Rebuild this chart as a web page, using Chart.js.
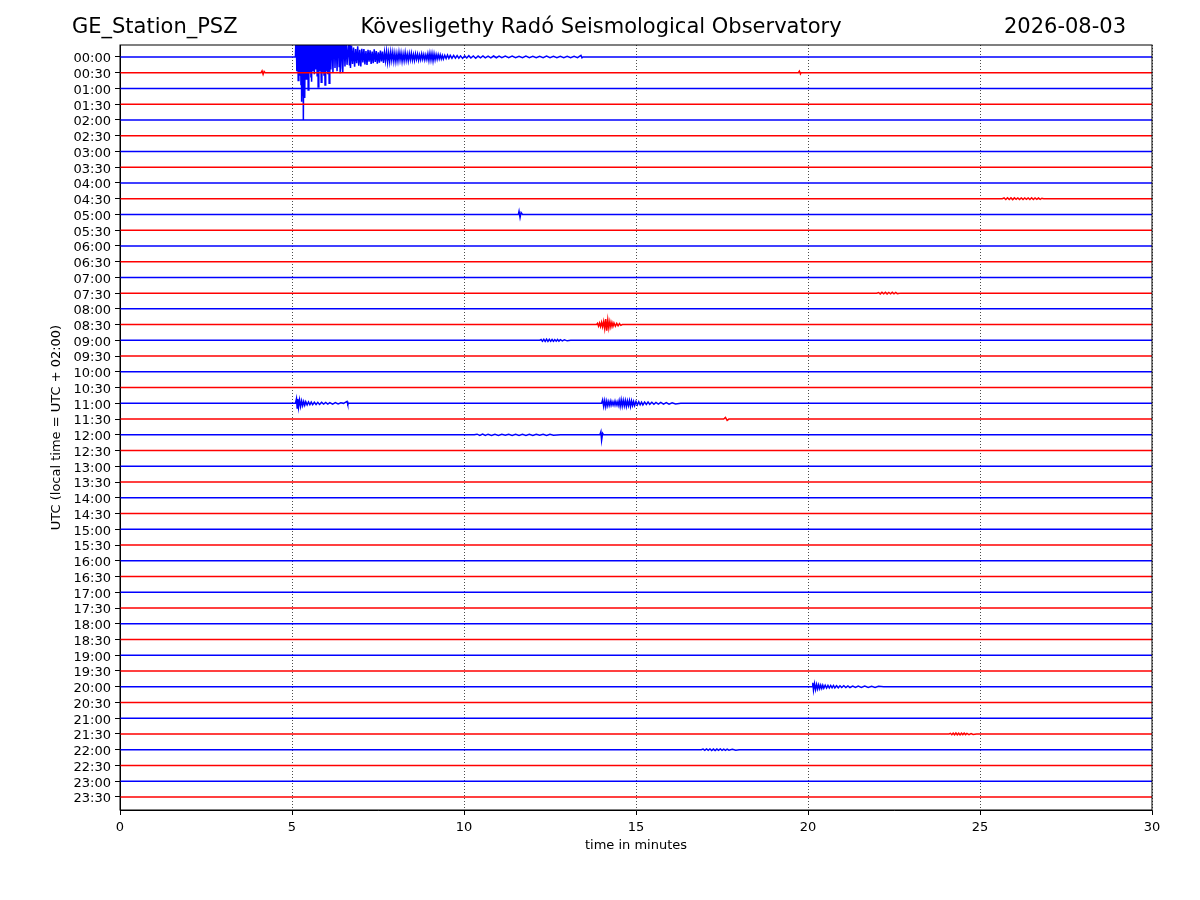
<!DOCTYPE html>
<html lang="en">
<head>
  <meta charset="UTF-8">
  <title>GE_Station_PSZ helicorder</title>
  <script src="https://cdn.jsdelivr.net/npm/chart.js"></script>
  <style>
    body {
      margin: 0;
      background: #fff;
      font-family: "DejaVu Sans", sans-serif;
    }
    canvas {
      display: block;
    }
  </style>
</head>
<body>
  <canvas id="heli" width="1200" height="900"></canvas>

  <script>
    // one trace per half hour, drawn top to bottom
    const TRACE_LABELS = [
      "00:00", "00:30", "01:00", "01:30", "02:00", "02:30", "03:00", "03:30",
      "04:00", "04:30", "05:00", "05:30", "06:00", "06:30", "07:00", "07:30",
      "08:00", "08:30", "09:00", "09:30", "10:00", "10:30", "11:00", "11:30",
      "12:00", "12:30", "13:00", "13:30", "14:00", "14:30", "15:00", "15:30",
      "16:00", "16:30", "17:00", "17:30", "18:00", "18:30", "19:00", "19:30",
      "20:00", "20:30", "21:00", "21:30", "22:00", "22:30", "23:00", "23:30"
    ];
    const X_TICKS = [0, 5, 10, 15, 20, 25, 30];

    // [minute, amplitude in trace spacings]
    const EV_0000 = [
      [5.10, 0], [5.12, 1.8], [5.14, -0.9], [5.16, 3.0], [5.18, -1.5], [5.20, 2.5],
      [5.22, -1.2], [5.24, 3.0], [5.26, -1.8], [5.27, 2.2], [5.28, -2.84], [5.30, 3.0],
      [5.31, -2.5], [5.32, 2.0], [5.33, -4.0], [5.35, 3.0], [5.37, -2.6], [5.39, 2.6],
      [5.41, -1.4], [5.43, 3.0], [5.45, -1.2], [5.46, 2.4], [5.47, -2.1], [5.49, 2.8],
      [5.51, -1.0], [5.53, 2.2], [5.55, -1.3], [5.56, 2.6], [5.57, -1.57], [5.59, 3.0],
      [5.61, -0.9], [5.63, 2.4], [5.65, -1.1], [5.67, 2.8], [5.69, -0.8], [5.71, 2.2],
      [5.73, -1.2], [5.75, 2.6], [5.76, -1.9], [5.78, 3.0], [5.80, -0.9], [5.82, 2.2],
      [5.85, -1.6], [5.87, 2.8], [5.89, -1.0], [5.91, 2.0], [5.93, -1.2], [5.94, 2.4],
      [5.96, -1.78], [5.98, 2.6], [6.00, -0.9], [6.02, 2.0], [6.04, -1.1], [6.06, 2.6],
      [6.08, -1.67], [6.10, 2.2], [6.13, -0.8], [6.16, 1.8], [6.19, -1.0], [6.22, 2.0],
      [6.25, -0.7], [6.28, 1.6], [6.31, -0.9], [6.34, 1.9], [6.37, -0.6], [6.385, 1.5],
      [6.40, -1.04], [6.43, 1.4], [6.46, -0.7], [6.47, 1.2], [6.48, -1.0], [6.51, 1.3],
      [6.54, -0.6], [6.57, 1.1], [6.60, -0.5], [6.64, 0.9], [6.67, -0.5], [6.685, 0.8],
      [6.70, -0.7], [6.73, 0.72], [6.76, -0.45], [6.79, 0.6], [6.82, -0.62], [6.85, 0.5],
      [6.88, -0.4], [6.91, 0.68], [6.94, -0.55], [6.97, 0.45], [7.00, -0.6], [7.03, 0.52],
      [7.06, -0.35], [7.09, 0.5], [7.12, -0.48], [7.15, 0.38], [7.18, -0.5], [7.21, 0.45],
      [7.24, -0.3], [7.27, 0.42], [7.30, -0.45], [7.33, 0.35], [7.36, -0.4], [7.39, 0.48],
      [7.42, -0.32], [7.45, 0.38], [7.48, -0.42], [7.51, 0.3], [7.54, -0.36], [7.57, 0.4],
      [7.60, -0.28], [7.63, 0.35], [7.66, -0.38], [7.69, 0.3], [7.72, -0.25], [7.75, 0.36],
      [7.78, -0.33], [7.81, 0.26], [7.84, -0.3], [7.87, 0.32], [7.90, -0.22], [7.93, 0.3],
      [7.96, -0.28], [7.99, 0.24], [8.02, -0.3], [8.05, 0.22], [8.08, -0.26], [8.11, 0.3],
      [8.14, -0.2], [8.17, 0.26], [8.20, -0.28], [8.23, 0.2], [8.26, -0.24], [8.29, 0.28],
      [8.32, -0.22], [8.35, 0.18], [8.38, -0.25], [8.41, 0.22], [8.44, -0.18], [8.47, 0.24],
      [8.50, -0.2], [8.53, 0.16], [8.56, -0.22], [8.59, 0.2], [8.62, -0.15], [8.65, 0.18],
      [8.68, -0.2], [8.71, 0.14], [8.74, -0.17], [8.77, 0.2], [8.80, -0.14], [8.83, 0.16],
      [8.86, -0.18], [8.89, 0.14], [8.92, -0.16], [8.95, 0.2], [8.98, -0.22], [9.01, 0.24],
      [9.04, -0.2], [9.07, 0.22], [9.10, -0.25], [9.13, 0.2], [9.16, -0.18], [9.19, 0.16],
      [9.22, -0.14], [9.25, 0.15], [9.28, -0.12], [9.31, 0.14], [9.34, -0.12], [9.37, 0.1],
      [9.40, -0.13], [9.44, 0.11], [9.48, -0.1], [9.52, 0.12], [9.56, -0.09], [9.60, 0.1],
      [9.65, -0.08], [9.70, 0.1], [9.75, -0.07], [9.80, 0.09], [9.85, -0.08], [9.90, 0.07],
      [9.96, -0.09], [10.02, 0.07], [10.08, -0.06], [10.14, 0.08], [10.20, -0.07], [10.27, 0.06],
      [10.34, -0.08], [10.41, 0.06], [10.48, -0.05], [10.55, 0.07], [10.62, -0.06], [10.70, 0.05],
      [10.78, -0.06], [10.86, 0.06], [10.94, -0.05], [11.02, 0.05], [11.10, -0.05], [11.20, 0.06],
      [11.30, -0.04], [11.40, 0.05], [11.50, -0.05], [11.60, 0.04], [11.70, -0.05], [11.80, 0.05],
      [11.90, -0.04], [12.00, 0.04], [12.10, -0.05], [12.20, 0.04], [12.30, -0.04], [12.40, 0.05],
      [12.50, -0.04], [12.60, 0.04], [12.70, -0.04], [12.80, 0.04], [12.90, -0.04], [13.00, 0.04],
      [13.10, -0.04], [13.20, 0.04], [13.30, -0.04], [13.40, 0.1], [13.43, -0.05], [13.46, 0]
    ];
    const EV_0030 = [[4.10, 0], [4.13, 0.12], [4.16, -0.1], [4.19, 0.08], [4.22, 0],
      [19.72, 0], [19.75, 0.1], [19.78, -0.08], [19.80, 0]];
    const EV_0430 = [[25.65, 0], [25.70, 0.05], [25.75, -0.05], [25.80, 0.06], [25.85, -0.05],
      [25.90, 0.05], [25.95, -0.06], [26.00, 0.05], [26.05, -0.04], [26.10, 0.05],
      [26.15, -0.05], [26.20, 0.04], [26.25, -0.05], [26.30, 0.05], [26.35, -0.04],
      [26.40, 0.05], [26.45, -0.05], [26.50, 0.06], [26.55, -0.05], [26.60, 0.05],
      [26.65, -0.04], [26.70, 0.04], [26.75, -0.04], [26.80, 0.03], [26.85, 0]];
    const EV_0500 = [[11.58, 0], [11.60, 0.2], [11.63, -0.2], [11.66, 0.12], [11.70, 0]];
    const EV_0730 = [[22.0, 0], [22.05, 0.04], [22.10, -0.05], [22.15, 0.05], [22.20, -0.04],
      [22.25, 0.05], [22.30, -0.05], [22.35, 0.04], [22.40, -0.04], [22.45, 0.05],
      [22.50, -0.04], [22.55, 0.04], [22.60, -0.03], [22.70, 0]];
    const EV_0830 = [[13.85, 0], [13.88, 0.08], [13.91, -0.1], [13.94, 0.1], [13.97, -0.12],
      [14.00, 0.15], [14.03, -0.14], [14.06, 0.2], [14.09, -0.25], [14.12, 0.35],
      [14.15, -0.38], [14.18, 0.3], [14.21, -0.22], [14.24, 0.2], [14.27, -0.15],
      [14.30, 0.14], [14.33, -0.12], [14.36, 0.1], [14.40, -0.1], [14.44, 0.08],
      [14.48, -0.08], [14.52, 0.06], [14.56, -0.05], [14.60, 0]];
    const EV_0900 = [[12.20, 0], [12.24, 0.05], [12.28, -0.06], [12.32, 0.06], [12.36, -0.07],
      [12.40, 0.08], [12.44, -0.06], [12.48, 0.07], [12.52, -0.06], [12.56, 0.05],
      [12.60, -0.06], [12.64, 0.05], [12.68, -0.05], [12.72, 0.06], [12.76, -0.05],
      [12.80, 0.04], [12.86, -0.04], [12.92, 0.04], [13.00, -0.03], [13.10, 0]];
    const EV_1100 = [[5.10, 0], [5.13, 0.3], [5.15, -0.3], [5.17, 0.28], [5.19, -0.25],
      [5.22, 0.22], [5.25, -0.2], [5.28, 0.16], [5.31, -0.15], [5.34, 0.12], [5.37, -0.12],
      [5.40, 0.1], [5.44, -0.1], [5.48, 0.09], [5.52, -0.08], [5.56, 0.08], [5.60, -0.08],
      [5.65, 0.07], [5.70, -0.07], [5.75, 0.06], [5.80, -0.07], [5.86, 0.06], [5.92, -0.05],
      [5.98, 0.06], [6.04, -0.05], [6.10, 0.05], [6.18, -0.05], [6.26, 0.05], [6.34, -0.04],
      [6.42, 0.04], [6.50, 0], [6.60, 0.12], [6.62, -0.06], [6.65, 0],
      [14.00, 0], [14.03, 0.22], [14.06, -0.2], [14.09, 0.18], [14.12, -0.22], [14.15, 0.15],
      [14.18, -0.16], [14.21, 0.12], [14.24, -0.14], [14.27, 0.15], [14.30, -0.12],
      [14.33, 0.1], [14.36, -0.12], [14.39, 0.14], [14.42, -0.12], [14.45, 0.1],
      [14.48, -0.14], [14.51, 0.18], [14.54, -0.2], [14.57, 0.22], [14.60, -0.18],
      [14.63, 0.2], [14.66, -0.16], [14.69, 0.18], [14.72, -0.2], [14.75, 0.16],
      [14.78, -0.14], [14.81, 0.18], [14.84, -0.2], [14.87, 0.16], [14.90, -0.14],
      [14.93, 0.12], [14.96, -0.14], [15.00, 0.12], [15.04, -0.1], [15.08, 0.1],
      [15.12, -0.09], [15.16, 0.08], [15.20, -0.1], [15.25, 0.08], [15.30, -0.07],
      [15.35, 0.08], [15.40, -0.06], [15.46, 0.07], [15.52, -0.06], [15.58, 0.06],
      [15.65, -0.05], [15.72, 0.06], [15.80, -0.05], [15.88, 0.05], [15.96, -0.05],
      [16.05, 0.04], [16.15, -0.04], [16.30, 0]];
    const EV_1130 = [[17.55, 0], [17.60, 0.1], [17.65, -0.08], [17.70, 0]];
    const EV_1200 = [[10.30, 0], [10.38, 0.04], [10.46, -0.04], [10.54, 0.05], [10.62, -0.04],
      [10.70, 0.04], [10.80, -0.04], [10.90, 0.04], [11.00, -0.04], [11.10, 0.04],
      [11.20, -0.03], [11.30, 0.04], [11.40, -0.04], [11.50, 0.04], [11.60, -0.04],
      [11.70, 0.03], [11.80, -0.04], [11.90, 0.04], [12.00, -0.04], [12.10, 0.04],
      [12.20, -0.03], [12.30, 0.04], [12.40, -0.04], [12.50, 0.03], [12.60, -0.03],
      [12.80, 0], [13.95, 0], [13.98, 0.2], [14.00, -0.35], [14.03, 0.1], [14.06, 0]];
    const EV_2000 = [[20.12, 0], [20.14, 0.25], [20.16, -0.22], [20.19, 0.2], [20.22, -0.18],
      [20.25, 0.15], [20.28, -0.14], [20.31, 0.12], [20.34, -0.13], [20.37, 0.1],
      [20.40, -0.11], [20.43, 0.1], [20.46, -0.09], [20.50, 0.1], [20.54, -0.08],
      [20.58, 0.09], [20.62, -0.08], [20.66, 0.08], [20.70, -0.07], [20.74, 0.08],
      [20.78, -0.07], [20.83, 0.06], [20.88, -0.07], [20.93, 0.06], [20.98, -0.05],
      [21.04, 0.06], [21.10, -0.05], [21.16, 0.05], [21.22, -0.05], [21.30, 0.04],
      [21.38, -0.05], [21.46, 0.04], [21.55, -0.04], [21.65, 0.04], [21.75, -0.04],
      [21.85, 0.03], [21.95, -0.04], [22.05, 0.03], [22.20, 0]];
    const EV_2130 = [[24.10, 0], [24.14, 0.04], [24.18, -0.05], [24.22, 0.05], [24.26, -0.05],
      [24.30, 0.06], [24.34, -0.05], [24.38, 0.05], [24.42, -0.06], [24.46, 0.05],
      [24.50, -0.04], [24.54, 0.05], [24.58, -0.04], [24.62, 0.04], [24.68, -0.04],
      [24.74, 0.03], [24.80, -0.03], [24.90, 0]];
    const EV_2200 = [[16.90, 0], [16.95, 0.04], [17.00, -0.04], [17.05, 0.05], [17.10, -0.04],
      [17.15, 0.05], [17.20, -0.05], [17.25, 0.04], [17.30, -0.05], [17.35, 0.04],
      [17.40, -0.04], [17.45, 0.05], [17.50, -0.04], [17.55, 0.04], [17.60, -0.04],
      [17.65, 0.04], [17.70, -0.03], [17.80, 0.03], [17.90, -0.03], [18.00, 0]];

    // trace index -> event points
    const TRACE_EVENTS = {
      0: EV_0000, 1: EV_0030, 9: EV_0430, 10: EV_0500, 15: EV_0730, 17: EV_0830,
      18: EV_0900, 22: EV_1100, 23: EV_1130, 24: EV_1200, 40: EV_2000, 43: EV_2130, 44: EV_2200
    };

    const datasets = TRACE_LABELS.map((lbl, i) => {
      const ev = TRACE_EVENTS[i] || [];
      const pts = [{ x: 0, y: -i }]
        .concat(ev.map(p => ({ x: p[0], y: p[1] - i })))
        .concat([{ x: 30, y: -i }]);
      return {
        label: lbl,
        data: pts,
        borderColor: i % 2 === 0 ? "#0000ff" : "#ff0000",
        borderWidth: 1.5,
        pointRadius: 0,
        tension: 0,
        fill: false,
        order: TRACE_LABELS.length - i  // later traces painted over earlier ones
      };
    });

    const headerPlugin = {
      id: 'header',
      afterDraw(chart) {
        const ctx = chart.ctx;
        const a = chart.chartArea;
        ctx.save();
        ctx.strokeStyle = '#000';
        ctx.lineWidth = 1;
        ctx.strokeRect(a.left, a.top, a.right - a.left, a.bottom - a.top);
        ctx.fillStyle = '#000';
        ctx.font = '21px "DejaVu Sans"';
        ctx.textBaseline = 'middle';
        ctx.textAlign = 'left';
        ctx.fillText('GE_Station_PSZ', 72, 28);
        ctx.textAlign = 'center';
        ctx.fillText('Kövesligethy Radó Seismological Observatory', 601, 28);
        ctx.textAlign = 'right';
        ctx.fillText('2026-08-03', 1126, 28);
        ctx.restore();
      }
    };

    const tickFont = { family: 'DejaVu Sans', size: 13 };

    new Chart(document.getElementById('heli'), {
      type: 'line',
      data: { datasets: datasets },
      options: {
        responsive: false,
        animation: false,
        devicePixelRatio: 1,
        layout: { padding: { left: 0, right: 48, top: 45, bottom: 40 } },
        plugins: {
          legend: { display: false },
          tooltip: { enabled: false },
          title: { display: false }
        },
        scales: {
          x: {
            type: 'linear',
            min: 0,
            max: 30,
            afterBuildTicks: s => { s.ticks = X_TICKS.map(v => ({ value: v })); },
            afterFit: s => { s.height = 50; },
            ticks: { color: '#000', font: tickFont, padding: 5, maxRotation: 0 },
            grid: {
              color: '#000',
              lineWidth: 0.7,
              tickLength: 5,
              tickColor: '#000',
              tickWidth: 1,
              tickBorderDash: []
            },
            border: { display: true, color: '#000', width: 1, dash: [1, 2] },
            title: {
              display: true,
              text: 'time in minutes',
              color: '#000',
              font: tickFont,
              padding: { top: 0, bottom: 7 }
            }
          },
          y: {
            type: 'linear',
            min: -(TRACE_LABELS.length - 1) - 0.83,
            max: 0.76,
            afterBuildTicks: s => { s.ticks = TRACE_LABELS.map((l, i) => ({ value: -i })); },
            afterFit: s => { s.width = 120; },
            ticks: {
              autoSkip: false,
              color: '#000',
              font: tickFont,
              padding: 4,
              labelOffset: 2,
              callback: v => TRACE_LABELS[Math.round(-v)]
            },
            grid: {
              drawOnChartArea: false,
              tickLength: 5,
              tickColor: '#000',
              tickWidth: 1,
              color: '#000'
            },
            border: { display: true, color: '#000', width: 1 },
            title: {
              display: true,
              text: 'UTC (local time = UTC + 02:00)',
              color: '#000',
              font: tickFont,
              padding: { top: 49, bottom: 0 }
            }
          }
        }
      },
      plugins: [headerPlugin]
    });
  </script>
</body>
</html>
